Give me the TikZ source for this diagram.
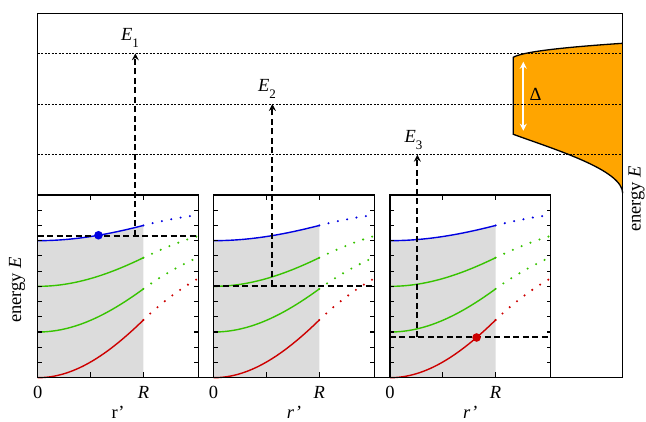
\documentclass[tikz,border=0pt]{standalone}
\usepackage{fontspec}
\setmainfont{Liberation Serif}
\usetikzlibrary{arrows.meta}
\definecolor{cblue}{RGB}{0,0,225}
\definecolor{cgreen}{RGB}{55,195,0}
\definecolor{cred}{RGB}{205,0,0}
\definecolor{cgray}{RGB}{220,220,220}
\definecolor{corange}{RGB}{255,165,0}
\tikzset{
  frame/.style={line width=1.5pt},
  tickline/.style={line width=1.2pt},
  lev/.style={line width=0.75pt, dash pattern=on 2pt off 1.5pt},
  guide/.style={line width=1.8pt, dash pattern=on 6pt off 3.5pt},
  guidearrow/.style={guide, -{Stealth[length=7pt,width=7pt,inset=2.5pt]}},
  solidcurve/.style={line width=1.4pt},
  dotcurve/.style={line width=2.3pt, line cap=round, dash pattern=on 0pt off 9.5pt},
  lbl/.style={font=\fontsize{18.5}{22}\selectfont, inner sep=0pt},
}
\newcommand\sublbl[1]{\textit{E}\raisebox{-7pt}{\fontsize{13}{13}\selectfont #1}}
\newcommand\panelbase{%
  \fill[cgray] (0,0) -- plot[domain=0:1,samples=40] (\x,{9+f(\x)}) -- (1,0) -- cycle;
  \draw[cblue,solidcurve] plot[domain=0:1,samples=40] (\x,{9+f(\x)});
  \draw[cgreen,solidcurve] plot[domain=0:1,samples=40] (\x,{6+1.88*f(\x)});
  \draw[cgreen,solidcurve] plot[domain=0:1,samples=40] (\x,{3+2.83*f(\x)});
  \draw[cred,solidcurve] plot[domain=0:1,samples=40] (\x,{3.79*f(\x)});
  \draw[cblue,dotcurve] (1,10) .. controls (1.17,10.30) and (1.35,10.54) .. (1.521,10.69);
  \draw[cgreen,dotcurve] (1,7.88) .. controls (1.17,8.45) and (1.35,8.97) .. (1.521,9.31);
  \draw[cgreen,dotcurve] (1,5.83) .. controls (1.17,6.69) and (1.35,7.40) .. (1.521,7.91);
  \draw[cred,dotcurve] (1,3.79) .. controls (1.17,4.94) and (1.35,5.85) .. (1.521,6.53);
}
\newcommand\panelframe{%
  \draw[frame] (0,0) rectangle (1.521,12);
  \foreach \k in {1,...,11} {
    \draw[tickline] (0,\k) -- ++(4pt,0);
    \draw[tickline] (1.521,\k) -- ++(-4pt,0);
  }
  \foreach \k in {0.5,1} {
    \draw[tickline] (\k,0) -- ++(0,6pt);
    \draw[tickline] (\k,12) -- ++(0,-5pt);
  }
}
\begin{document}
\begin{tikzpicture}[x=1pt,y=-1pt,
  declare function={f(\t)=0.5*\t*\t+0.5*(1-cos(90*\t));}]
\useasboundingbox (0,0) rectangle (646,422);

% energy levels (coordinates)
\coordinate (L1a) at (37.5,53.3);  \coordinate (L1b) at (622.7,53.3);
\coordinate (L2a) at (37.5,104);   \coordinate (L2b) at (622.7,104);
\coordinate (L3a) at (37.5,154.7); \coordinate (L3b) at (622.7,154.7);

% orange band
\draw[line width=1.3pt, fill=corange] (622.7,43.3) .. controls (560,47.5) and (522,52) .. (513.3,57.3)
  -- (513.3,134.3) .. controls (555,149.6) and (622.7,170) .. (622.7,193.3);
\coordinate (dA) at (523.3,61.7);
\coordinate (dB) at (523.3,130.7);
\draw[white, line width=2pt, {Stealth[length=7pt,width=7pt]}-{Stealth[length=7pt,width=7pt]}] (dA) -- (dB);
\node[lbl] (delta) at (535.5,94.5) {Δ};

% dotted level lines
\draw[lev] (L1a) -- (L1b);
\draw[lev] (L2a) -- (L2b);
\draw[lev] (L3a) -- (L3b);

% outer frame
\draw[frame] (37.5,13.3) rectangle (622.7,377.7);

% panel 1
\begin{scope}[shift={(37.7pt,-377.7pt)},x=105.7pt,y=15.225pt]
  \panelbase
  \coordinate (h1a) at (0,9.33);
  \coordinate (h1b) at (1.521,9.33);
  \coordinate (v1) at (0.924,9.33);
  \draw[guide] (h1a) -- (h1b);
  \draw[guidearrow] (v1) -- (v1 |- L1a);
  \fill[cblue] (0.575,{9+f(0.575)}) circle[radius=4.3pt];
  \panelframe
  \node[lbl] (z1) at (0,-0.97) {0};
  \node[lbl] (R1) at (1,-0.97) {\textit{R}};
  \node[lbl] (r1) at (0.76,-2.27) {r’};
\end{scope}

% panel 2
\begin{scope}[shift={(213.6pt,-377.7pt)},x=105.7pt,y=15.225pt]
  \panelbase
  \coordinate (h2a) at (0,6);
  \coordinate (h2b) at (1.521,6);
  \coordinate (v2) at (0.556,6);
  \draw[guide] (h2a) -- (h2b);
  \draw[guidearrow] (v2) -- (v2 |- L2a);
  \panelframe
  \node[lbl] (z2) at (0,-0.97) {0};
  \node[lbl] (R2) at (1,-0.97) {\textit{R}};
  \node[lbl] (r2) at (0.76,-2.27) {\textit{r’}};
\end{scope}

% panel 3
\begin{scope}[shift={(389.9pt,-377.7pt)},x=105.7pt,y=15.225pt]
  \panelbase
  \coordinate (h3a) at (0,2.67);
  \coordinate (h3b) at (1.521,2.67);
  \coordinate (v3) at (0.2599,2.67);
  \draw[guide] (h3a) -- (h3b);
  \draw[guidearrow] (v3) -- (v3 |- L3a);
  \fill[cred] (0.82,{3.79*f(0.82)}) circle[radius=4.3pt];
  \panelframe
  \node[lbl] (z3) at (0,-0.97) {0};
  \node[lbl] (R3) at (1,-0.97) {\textit{R}};
  \node[lbl] (r3) at (0.76,-2.27) {\textit{r’}};
\end{scope}

% E labels
\node[lbl, anchor=base west, xshift=-14.5pt, yshift=12.3pt] (E1) at (v1 |- L1a) {\sublbl{1}};
\node[lbl, anchor=base west, xshift=-14.5pt, yshift=12.3pt] (E2) at (v2 |- L2a) {\sublbl{2}};
\node[lbl, anchor=base west, xshift=-13pt, yshift=12.3pt] (E3) at (v3 |- L3a) {\sublbl{3}};

% axis labels
\node[lbl, rotate=90] (elabL) at (17,290) {energy \textit{E}};
\node[lbl, rotate=90] (elabR) at (636.5,199) {energy \textit{E}};
\end{tikzpicture}
\end{document}
